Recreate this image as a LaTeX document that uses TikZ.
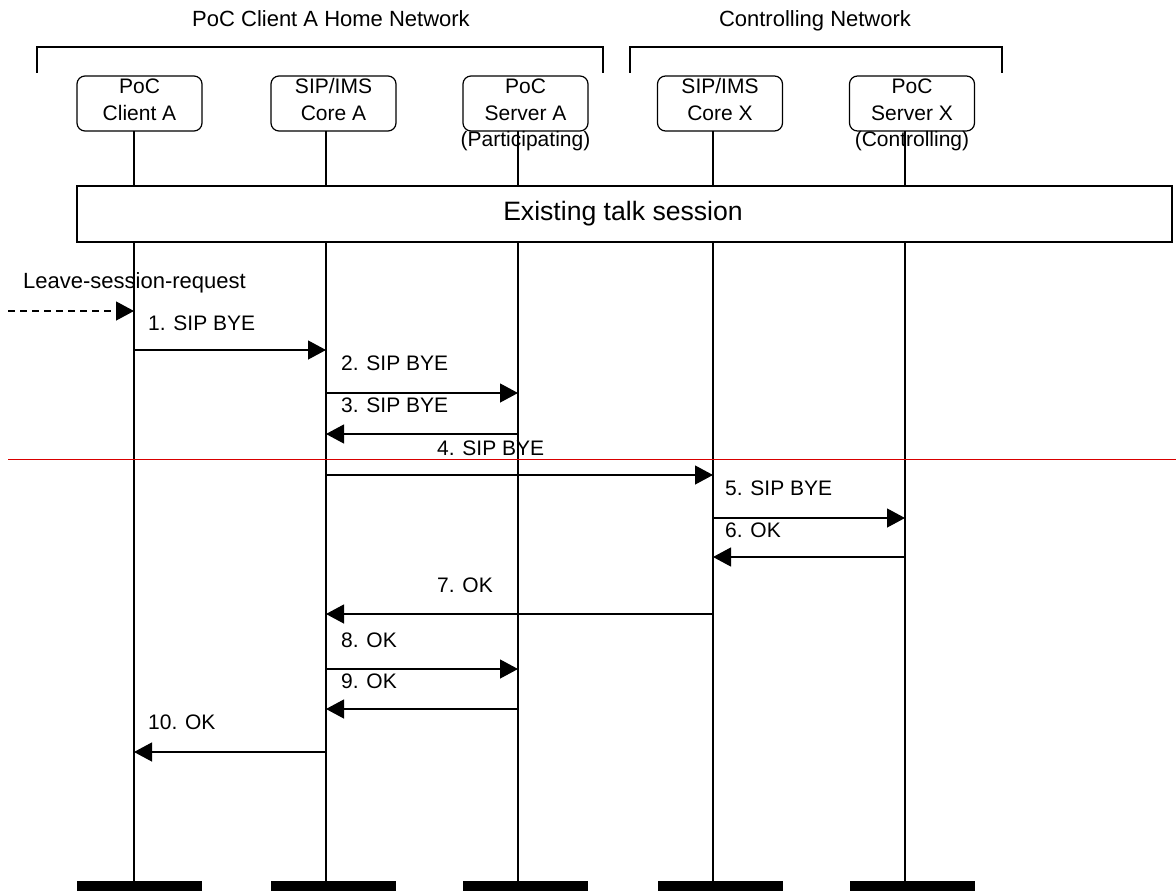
\documentclass[tikz,border=0pt]{standalone}
\usepackage{fontspec}
\setmainfont{Liberation Sans}
\usetikzlibrary{arrows.meta}
\begin{document}
\begin{tikzpicture}[x=1pt,y=-1pt,
  txt/.style={font=\fontsize{21}{25}\selectfont, inner sep=0},
  lbl/.style={txt, anchor=base west},
  ctr/.style={txt, anchor=base},
  big/.style={font=\fontsize{22}{26}\selectfont, inner sep=0},
  ent/.style={draw, line width=1.2pt, rounded corners=8pt, minimum width=125pt, minimum height=55pt, inner sep=0},
  life/.style={line width=1.2pt},
  msg/.style={line width=1.2pt, -{Triangle[length=18pt,width=19pt]}},
  bar/.style={fill=black, inner sep=0, minimum width=125pt, minimum height=10pt},
  brk/.style={line width=1.2pt}]
\useasboundingbox (0,0) rectangle (1176,891);

% network titles and brackets
\node[big, anchor=base] (t1) at (331,27) {PoC Client A Home Network};
\node[big, anchor=base] (t2) at (815,27) {Controlling Network};
\draw[brk] (37,73) |- (603,47) -- (603,73);
\draw[brk] (630,73) |- (1002,47) -- (1002,73);

% entity boxes
\node[ent] (ba) at (139.5,103.5) {};
\node[ent] (bb) at (333.5,103.5) {};
\node[ent] (bc) at (525.5,103.5) {};
\node[ent] (bd) at (720,103.5) {};
\node[ent] (be) at (912,103.5) {};
\node[ctr] (ta1) at (139.5,93) {PoC};
\node[ctr] (ta2) at (139.5,121) {Client A};
\node[ctr] (tb1) at (333.5,93) {SIP/IMS};
\node[ctr] (tb2) at (333.5,121) {Core A};
\node[ctr] (tc1) at (525.5,93) {PoC};
\node[ctr] (tc2) at (525.5,121) {Server A};
\node[ctr] (tc3) at (525.5,146) {(Participating)};
\node[ctr] (td1) at (720,93) {SIP/IMS};
\node[ctr] (td2) at (720,121) {Core X};
\node[ctr] (te1) at (912,93) {PoC};
\node[ctr] (te2) at (912,121) {Server X};
\node[ctr] (te3) at (912,146) {(Controlling)};

% lifelines
\coordinate (la) at (134,131);
\coordinate (lb) at (326,131);
\coordinate (lc) at (518,131);
\coordinate (ld) at (713,131);
\coordinate (le) at (905,131);
\coordinate (bot) at (0,881);
\draw[life] (la) -- (la |- bot);
\draw[life] (lb) -- (lb |- bot);
\draw[life] (lc) -- (lc |- bot);
\draw[life] (ld) -- (ld |- bot);
\draw[life] (le) -- (le |- bot);

% bottom bars
\node[bar] (za) at (139.5,886) {};
\node[bar] (zb) at (333.5,886) {};
\node[bar] (zc) at (525.5,886) {};
\node[bar] (zd) at (720,886) {};
\node[bar] (ze) at (912,886) {};

% existing talk session
\node[draw, fill=white, line width=1.2pt, minimum width=1095pt, minimum height=56pt, inner sep=0] (talk) at (624.5,214) {};
\node[font=\fontsize{26.6}{30}\selectfont, inner sep=0, anchor=base] (talktxt) at (623,220) {Existing talk session};

% leave request
\node[big, anchor=base west] (lv) at (23,288) {Leave-session-request};
\coordinate (ext) at (8,311);
\draw[line width=1.2pt, dash pattern=on 7pt off 5pt, -{Triangle[length=18pt,width=19pt]}] (ext) -- (la |- ext);

% messages
\coordinate (m1) at (0,350);
\coordinate (m2) at (0,393);
\coordinate (m3) at (0,434);
\coordinate (m4) at (0,475);
\coordinate (m5) at (0,518);
\coordinate (m6) at (0,557);
\coordinate (m7) at (0,614);
\coordinate (m8) at (0,669);
\coordinate (m9) at (0,709);
\coordinate (m10) at (0,752);

\node[lbl] (l1) at (148,330) {1. SIP BYE};
\draw[msg] (la |- m1) -- (lb |- m1);
\node[lbl] (l2) at (341,370) {2. SIP BYE};
\draw[msg] (lb |- m2) -- (lc |- m2);
\node[lbl] (l3) at (341,412) {3. SIP BYE};
\draw[msg] (lc |- m3) -- (lb |- m3);
\node[lbl] (l4) at (437,455) {4. SIP BYE};
\draw[msg] (lb |- m4) -- (ld |- m4);
\node[lbl] (l5) at (725,495) {5. SIP BYE};
\draw[msg] (ld |- m5) -- (le |- m5);
\node[lbl] (l6) at (725,537) {6. OK};
\draw[msg] (le |- m6) -- (ld |- m6);
\node[lbl] (l7) at (437,592) {7. OK};
\draw[msg] (ld |- m7) -- (lb |- m7);
\node[lbl] (l8) at (341,647) {8. OK};
\draw[msg] (lb |- m8) -- (lc |- m8);
\node[lbl] (l9) at (341,688) {9. OK};
\draw[msg] (lc |- m9) -- (lb |- m9);
\node[lbl] (l10) at (148,729) {10. OK};
\draw[msg] (lb |- m10) -- (la |- m10);

% thin red rule
\coordinate (rl) at (8,459);
\coordinate (rr) at (1176,459);
\draw[red!85!black, line width=0.8pt] (rl) -- (rr);
\end{tikzpicture}
\end{document}
